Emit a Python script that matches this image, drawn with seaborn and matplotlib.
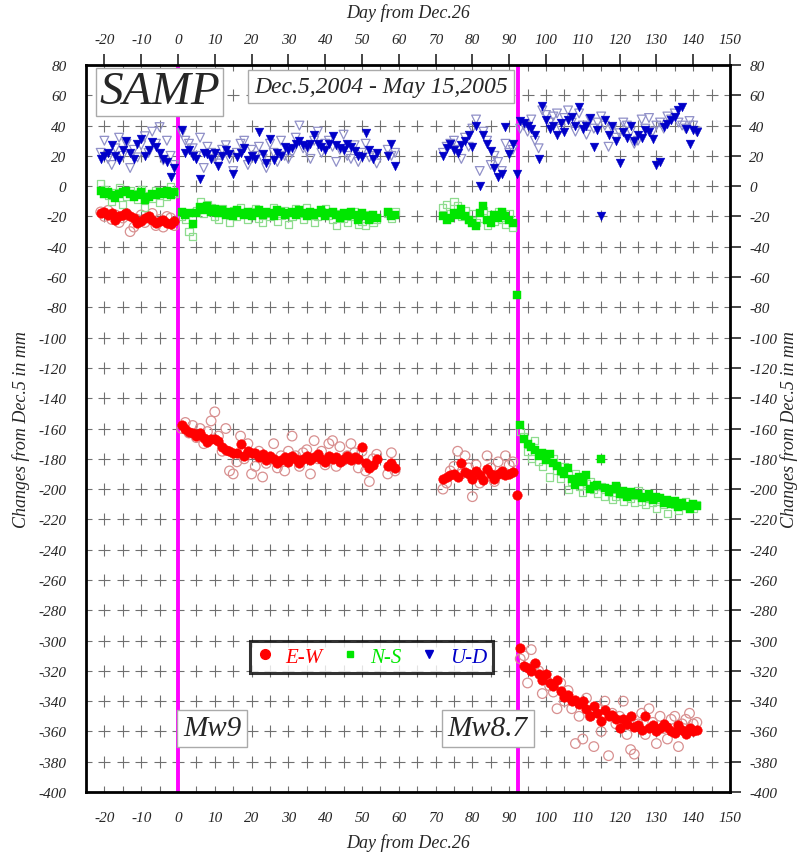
"""
plot.py
SAMP GPS station: daily position changes (E-W, N-S, U-D) from Dec.5 2004 to May 15 2005.
"""

import numpy as np
import pandas as pd
import matplotlib
matplotlib.use("Agg")
import matplotlib.pyplot as plt
import seaborn as sns
from matplotlib.lines import Line2D

nan = np.nan

# ── Data (mm, relative to Dec.5) ──────────────────────────────────────────────
days_pre = list(range(-21, 0))
days_p1 = list(range(1, 60))
days_p2 = list(range(72, 93))
days_p3 = list(range(93, 142))

# E-W, filled (final solution)
ew_pre = [-18, -17, -19, -18, -22, -20, -19, -18, -20, -21, -24, -23, -21, -20, -22, -24, -23, -22, -24, -25, -23]
ew_p1 = [-158, -160, -162, -163, -165, -163, -166, -169, -167, -167,
         -168, -172, -174, -175, -176, -176, -170, -178, -175, -176,
         -176, -179, -177, -181, -178, -180, -183, -181, -179, -182,
         -178, -180, -183, -180, -178, -181, -179, -177, -180, -182,
         -178, -180, -179, -182, -180, -178, -181, -179, -180, -172,
         -183, -186, -184, -180, nan, nan, -185, -183, -186]
ew_p2 = [-193, -192, -191, -190, -192, -183, -189, -190, -193, -188, -191, -194, -187, -190, -193, -190, -188, -191, -190, -189, -204]
ew_p3 = [-305, -317, -318, -320, -315, -322, -326, -322, -328, -330,
         -326, -333, -337, -336, -340, -339, -342, -340, -345, -350,
         -343, -348, -353, -346, -350, -349, -352, -358, -352, -355,
         -350, -357, -356, -359, -350, -358, -356, -360, -358, -355,
         -357, -360, -361, -356, -359, -362, -358, -360, -359]

# E-W, open (second solution)
ew_pre_o = [-17, -20, -16, -22, -19, -24, -21, -18, -30, -27, -22, -19, -24, -21, -18, -26, -22, -27, -20, -21, -26]
ew_p1_o = [-160, -156, -163, -158, -166, -160, -170, -162, -155, -149,
           -165, -175, -160, -188, -190, -182, -165, -180, -170, -190,
           -185, -175, -192, -183, -180, -170, -186, -178, -188, -175,
           -165, -178, -185, -176, -174, -190, -168, -180, -175, -184,
           -170, -168, -185, -172, -181, -178, -170, -176, -186, -175,
           -188, -195, -180, -177, nan, nan, -190, -176, -188]
ew_p2_o = [-200, -196, -188, -185, -175, -190, -178, -186, -205, -184, -196, -192, -178, -186, -195, -182, -190, -178, -184, -182, nan]
ew_p3_o = [-312, -310, -328, -306, -316, -320, -335, -325, -330, -334,
           -345, -328, -340, -333, -345, -368, -350, -365, -338, -350,
           -370, -345, -360, -340, -376, -348, -355, -350, -340, -362,
           -372, -375, -355, -348, -362, -345, -354, -368, -350, -358,
           -365, -352, -350, -370, -355, -352, -348, -355, -354]

# N-S, filled
ns_pre = [-3, -5, -4, -6, -8, -5, -4, -3, -5, -7, -6, -4, -9, -7, -5, -6, -4, -5, -3, -6, -4]
ns_p1 = [-17, -19, -18, -25, -18, -14, -16, -13, -17, -15,
         -18, -16, -19, -17, -20, -16, -18, -19, -17, -20,
         -18, -16, -19, -17, -18, -20, -16, -17, -19, -18,
         -17, -19, -16, -18, -20, -17, -19, -18, -16, -20,
         -18, -17, -19, -21, -18, -20, -17, -19, -22, -18,
         -20, -22, -19, -21, nan, nan, -17, -20, -19]
ns_p2 = [-20, -22, -21, -18, -19, -15, -20, -22, -24, -26, -18, -13, -22, -24, -19, -21, -17, -20, -22, -24, -72]
ns_p3 = [-158, -167, -170, -172, -174, -178, -176, -181, -177, -183,
         -185, -188, -190, -186, -193, -197, -192, -195, -191, -200,
         -198, -197, -180, -199, -202, -200, -198, -203, -201, -205,
         -202, -204, -203, -206, -205, -203, -207, -205, -206, -209,
         -207, -210, -208, -212, -209, -211, -213, -210, -211]

# N-S, open
ns_pre_o = [2, -2, -6, -10, -4, -1, -12, -7, -3, -5, -9, -2, -14, -6, -8, -3, -11, -4, -7, 0, -5]
ns_p1_o = [-20, -22, -30, -33, -16, -10, -18, -12, -14, -20,
           -22, -15, -18, -24, -16, -20, -14, -18, -22, -17,
           -15, -21, -24, -18, -20, -14, -23, -19, -16, -25,
           -20, -15, -18, -22, -14, -19, -24, -20, -17, -15,
           -19, -22, -26, -18, -21, -24, -20, -17, -25, -23,
           -26, -19, -24, -22, nan, nan, -18, -21, -17]
ns_p2_o = [-14, -12, -18, -10, -13, -20, -16, -22, -18, -24, -21, -16, -26, -19, -23, -17, -22, -25, -18, -27, nan]
ns_p3_o = [-162, -165, -175, -180, -168, -182, -185, -178, -192, -180,
           -188, -193, -185, -200, -195, -190, -198, -202, -196, -195,
           -200, -203, -198, -205, -200, -207, -205, -202, -208, -204,
           -206, -209, -201, -208, -210, -206, -209, -213, -207, -210,
           -216, -208, -210, -214, -211, -208, -212, -213, -210]

# U-D, filled
ud_pre = [18, 20, 22, 27, 20, 17, 24, 30, 22, 18, 28, 31, 20, 24, 29, 26, 22, 18, 16, 6, 12]
ud_p1 = [37, 22, 24, 20, 18, 5, 22, 21, 18, 22,
         13, 20, 24, 21, 8, 19, 22, 25, 17, 20,
         18, 36, 21, 15, 31, 17, 22, 20, 26, 24,
         25, 28, 30, 27, 26, 28, 34, 28, 26, 24,
         28, 33, 27, 25, 24, 28, 26, 23, 20, 19,
         35, 24, 18, 22, nan, nan, 20, 28, 13]
ud_p2 = [20, 25, 28, 24, 22, 27, 30, 34, 26, 40, 0, 34, 28, 23, 12, 6, 8, 39, 21, 28, 8]
ud_p3 = [43, 42, 40, 38, 34, 18, 53, 44, 38, 40,
         34, 42, 36, 44, 46, 40, 52, 38, 40, 45,
         26, 37, -20, 44, 34, 40, 30, 15, 36, 32,
         40, 30, 34, 32, 37, 36, 31, 14, 16, 39,
         41, 44, 46, 50, 52, 38, 28, 37, 36]

# U-D, open
ud_pre_o = [22, 30, 18, 14, 25, 32, 20, 28, 12, 24, 19, 27, 33, 22, 36, 28, 39, 17, 30, 20, 14]
ud_p1_o = [35, 30, 28, 25, 20, 32, 12, 26, 22, 18,
           15, 24, 27, 18, 10, 22, 28, 30, 14, 24,
           20, 26, 18, 12, 28, 22, 16, 30, 20, 18,
           22, 32, 40, 25, 24, 18, 30, 36, 22, 28,
           30, 26, 16, 24, 34, 20, 18, 27, 16, 22,
           28, 19, 20, 15, nan, nan, 24, 20, 22]
ud_p2_o = [22, 26, 28, 30, 24, 18, 32, 26, 38, 44, 10, 36, 30, 14, 20, 16, 10, 28, 22, 24, nan]
ud_p3_o = [38, 40, 36, 44, 30, 25, 50, 47, 42, 46,
           48, 38, 45, 50, 42, 36, 48, 40, 34, 44,
           38, 42, 46, 40, 26, 38, 32, 35, 42, 40,
           36, 28, 30, 44, 38, 45, 36, 40, 42, 38,
           46, 44, 48, 42, 40, 38, 43, 40, 36]

quake_days = [0, 92.5]
quake_labels = ["Mw9", "Mw8.7"]
quake_label_days = [9.3, 84.2]

# ── Long-form table ────────────────────────────────────────────────────────────
all_days = days_pre + days_p1 + days_p2 + days_p3
series = {
    ("E-W", "filled"): ew_pre + ew_p1 + ew_p2 + ew_p3,
    ("E-W", "open"): ew_pre_o + ew_p1_o + ew_p2_o + ew_p3_o,
    ("N-S", "filled"): ns_pre + ns_p1 + ns_p2 + ns_p3,
    ("N-S", "open"): ns_pre_o + ns_p1_o + ns_p2_o + ns_p3_o,
    ("U-D", "filled"): ud_pre + ud_p1 + ud_p2 + ud_p3,
    ("U-D", "open"): ud_pre_o + ud_p1_o + ud_p2_o + ud_p3_o,
}
rows = []
for (comp, kind), vals in series.items():
    for d, v in zip(all_days, vals):
        rows.append({"comp": comp, "kind": kind, "day": d, "value": v})
df = pd.DataFrame(rows).dropna()

# ── Styles ─────────────────────────────────────────────────────────────────────
sns.set_style("white")
plt.rcParams["font.family"] = ["Liberation Serif", "DejaVu Serif"]
plt.rcParams["font.style"] = "italic"
plt.rcParams["axes.unicode_minus"] = False

colors = {"E-W": "#ff0000", "N-S": "#00e600", "U-D": "#0000c8"}
open_colors = {"E-W": "#d89090", "N-S": "#8fdc8f", "U-D": "#9090c8"}
markers = {"E-W": "o", "N-S": "s", "U-D": "v"}
sizes = {"E-W": 48, "N-S": 26, "U-D": 40}

fig, ax = plt.subplots(figsize=(8.02, 8.54), dpi=100)
fig.subplots_adjust(left=0.1072, right=0.9102, bottom=0.0714, top=0.9227)

XMIN, XMAX, YMIN, YMAX = -25, 150, -400, 80

# "+" grid
gx, gy = np.meshgrid(np.arange(-25, 151, 5), np.arange(-400, 81, 20))
ax.scatter(gx.ravel(), gy.ravel(), marker="+", s=64, color="#707070",
           linewidths=0.8, zorder=1)

# earthquake lines
for qd in quake_days:
    ax.axvline(qd, color="#ff00ff", lw=2.8, zorder=2)

# open markers first, filled on top
for comp in ["E-W", "N-S", "U-D"]:
    sub = df[(df.comp == comp) & (df.kind == "open")]
    sns.scatterplot(data=sub, x="day", y="value", ax=ax, marker=markers[comp],
                    s=sizes[comp], facecolors="none", edgecolor=open_colors[comp],
                    linewidth=0.9, zorder=3, legend=False)
for comp in ["E-W", "N-S", "U-D"]:
    sub = df[(df.comp == comp) & (df.kind == "filled")]
    sns.scatterplot(data=sub, x="day", y="value", ax=ax, marker=markers[comp],
                    s=sizes[comp], color=colors[comp], edgecolor=colors[comp],
                    linewidth=0.3, zorder=4, legend=False)

ax.set_xlim(XMIN, XMAX)
ax.set_ylim(YMIN, YMAX)
ax.set_xticks(np.arange(-20, 151, 10))
ax.set_yticks(np.arange(-400, 81, 20))
ax.tick_params(axis="both", direction="out", length=8, width=1.2, labelsize=11,
               top=True, right=True, labeltop=True, labelright=True, pad=6)
for sp in ax.spines.values():
    sp.set_linewidth(2.0)
    sp.set_color("black")

ax.set_xlabel("Day from Dec.26", fontsize=13, labelpad=6)
ax.set_ylabel("Changes from Dec.5 in mm", fontsize=13, labelpad=6)
fig.text(0.984, (0.0714 + 0.9227) / 2, "Changes from Dec.5 in mm", rotation=90,
         ha="center", va="center", fontsize=13, fontstyle="italic")
fig.text((0.1072 + 0.9102) / 2, 0.985, "Day from Dec.26",
         ha="center", va="center", fontsize=13, fontstyle="italic")

# text boxes
ax.text(0.114, 0.963, "SAMP", transform=ax.transAxes, ha="center", va="center",
        fontsize=34, bbox=dict(boxstyle="square,pad=0.06", facecolor="white",
                               edgecolor="#aaaaaa", lw=1.0), zorder=10)
ax.text(0.458, 0.970, "Dec.5,2004 - May 15,2005", transform=ax.transAxes,
        ha="center", va="center", fontsize=17,
        bbox=dict(boxstyle="square,pad=0.25", facecolor="white",
                  edgecolor="#aaaaaa", lw=1.0), zorder=10)
for xd, lab in zip(quake_label_days, quake_labels):
    ax.text(xd, -358, lab, ha="center", va="center", fontsize=21,
            bbox=dict(boxstyle="square,pad=0.2", facecolor="white",
                      edgecolor="#aaaaaa", lw=1.0), zorder=10)

# legend
handles = [Line2D([], [], ls="none", marker=markers[c], color=colors[c],
                  markersize=ms) for c, ms in zip(["E-W", "N-S", "U-D"], [7, 5, 6])]
leg = ax.legend(handles, ["E-W", "N-S", "U-D"], ncol=3, loc="lower left",
                bbox_to_anchor=(0.255, 0.164), borderaxespad=0, frameon=True,
                fancybox=False, fontsize=15, handlelength=0.8, handletextpad=0.6,
                columnspacing=0.9, borderpad=0.3)
leg.get_frame().set_edgecolor("black")
leg.get_frame().set_linewidth(2.2)
leg.set_zorder(10)
for txt, c in zip(leg.get_texts(), ["E-W", "N-S", "U-D"]):
    txt.set_color(colors[c])

fig.savefig("out.png", dpi=100)
plt.close(fig)
